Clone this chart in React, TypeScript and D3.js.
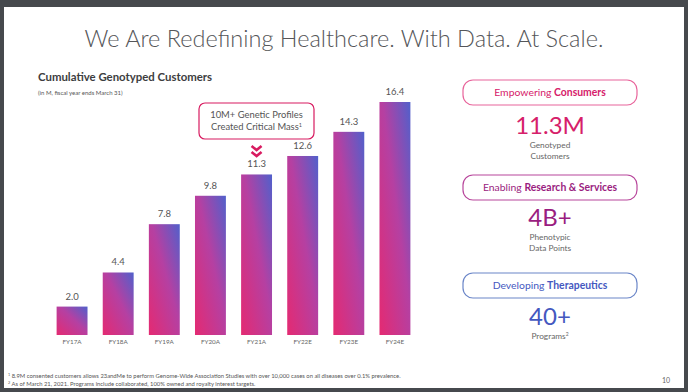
import React from "react";
import * as d3 from "d3";

const categories = ["FY17A", "FY18A", "FY19A", "FY20A", "FY21A", "FY22E", "FY23E", "FY24E"];
const customers = [2.0, 4.4, 7.8, 9.8, 11.3, 12.6, 14.3, 16.4];

const pillars = [
  { lead: "Empowering ", bold: "Consumers", big: "11.3M", sub: ["Genotyped", "Customers"], stroke: "#e8649b", color: "#d6206a" },
  { lead: "Enabling ", bold: "Research & Services", big: "4B+", sub: ["Phenotypic", "Data Points"], stroke: "#b8479c", color: "#9a1d80" },
  { lead: "Developing ", bold: "Therapeutics", big: "40+", sub: ["Programs"], stroke: "#6b86c8", color: "#4458bf" },
];

const footnotes = [
  "8.9M consented customers allows 23andMe to perform Genome-Wide Association Studies with over 10,000 cases on all diseases over 0.1% prevalence.",
  "As of March 21, 2021. Programs include collaborated, 100% owned and royalty interest targets.",
];

const W = 688;
const H = 392;
const FONT = "Lato, 'Open Sans', sans-serif";

const App = () => {
  // bar chart scales
  const x = d3.scaleBand().domain(categories).range([49, 418]).paddingInner(0.33).paddingOuter(0.165);
  const y = d3.scaleLinear().domain([0, 16.4]).range([335, 102]);
  const fmt = d3.format(".1f");

  const annX = (x("FY21A") as number) + x.bandwidth() / 2;

  return (
    <svg width={W} height={H} style={{ position: "absolute", left: 0, top: 0 }} fontFamily={FONT}>
      <defs>
        <linearGradient id="barGrad" x1="1" y1="0" x2="0" y2="1">
          <stop offset="0%" stopColor="#5160cb" />
          <stop offset="45%" stopColor="#b540a2" />
          <stop offset="100%" stopColor="#e42a72" />
        </linearGradient>
      </defs>

      {/* slide frame */}
      <rect x={0} y={0} width={W} height={H} fill="#46494d" />
      <rect x={4} y={7} width={680} height={381} fill="#ffffff" />

      <text x={344} y={47} textAnchor="middle" fontSize={23.5} fontWeight={300} fill="#555659">
        We Are Redefining Healthcare. With Data. At Scale.
      </text>

      <text x={38} y={81} fontSize={11.4} fontWeight={700} fill="#3d3d40">
        Cumulative Genotyped Customers
      </text>
      <text x={38} y={95} fontSize={6} fill="#555">
        (in M, fiscal year ends March 31)
      </text>

      {/* bars */}
      {customers.map((v, i) => {
        const bx = x(categories[i]) as number;
        const cx = bx + x.bandwidth() / 2;
        return (
          <g key={categories[i]}>
            <rect x={bx} y={y(v)} width={x.bandwidth()} height={y(0) - y(v)} fill="url(#barGrad)" />
            <text x={cx} y={y(v) - 7} textAnchor="middle" fontSize={9.5} fill="#555">
              {fmt(v)}
            </text>
            <text x={cx} y={344} textAnchor="middle" fontSize={6.3} fill="#666">
              {categories[i]}
            </text>
          </g>
        );
      })}

      {/* callout */}
      <rect x={199} y={103} width={115} height={36} rx={6} fill="#fff" stroke="#d81b60" strokeWidth={1.2} />
      <text x={256.5} y={118} textAnchor="middle" fontSize={9.4} fill="#555">
        10M+ Genetic Profiles
      </text>
      <text x={256.5} y={130} textAnchor="middle" fontSize={9.4} fill="#555">
        Created Critical Mass<tspan fontSize={5.5} dy={-3.5}>1</tspan>
      </text>
      <g fill="none" stroke="#d81b60" strokeWidth={2.6}>
        <path d={`M${annX - 5},146 L${annX},150 L${annX + 5},146`} />
        <path d={`M${annX - 5},152 L${annX},156 L${annX + 5},152`} />
      </g>

      {/* right side pillars */}
      {pillars.map((p, i) => {
        const top = [80, 175, 273][i];
        const bigY = [134, 226, 325][i];
        return (
          <g key={p.bold}>
            <rect x={463} y={top} width={174} height={25} rx={10} fill="#fff" stroke={p.stroke} strokeWidth={1.2} />
            <text x={550} y={top + 16} textAnchor="middle" fontSize={10.4} fill={p.color}>
              {p.lead}
              <tspan fontWeight={700}>{p.bold}</tspan>
            </text>
            <text x={550} y={bigY} textAnchor="middle" fontSize={24} fill={p.color}>
              {p.big}
            </text>
            {p.sub.map((s, j) => (
              <text key={s} x={550} y={bigY + 14 + j * 11} textAnchor="middle" fontSize={8.3} fill="#666">
                {s}
                {i === 2 && <tspan fontSize={5} dy={-3}>2</tspan>}
              </text>
            ))}
          </g>
        );
      })}

      {/* footnotes */}
      {footnotes.map((f, i) => (
        <text key={i} x={8} y={378 + i * 7.5} fontSize={5.85} fill="#555">
          <tspan fontSize={3.8} dy={-1.8}>{i + 1}</tspan>
          <tspan dy={1.8}> {f}</tspan>
        </text>
      ))}
      <text x={666} y={383} textAnchor="middle" fontSize={7} fill="#666">
        10
      </text>
    </svg>
  );
};

export default App;
